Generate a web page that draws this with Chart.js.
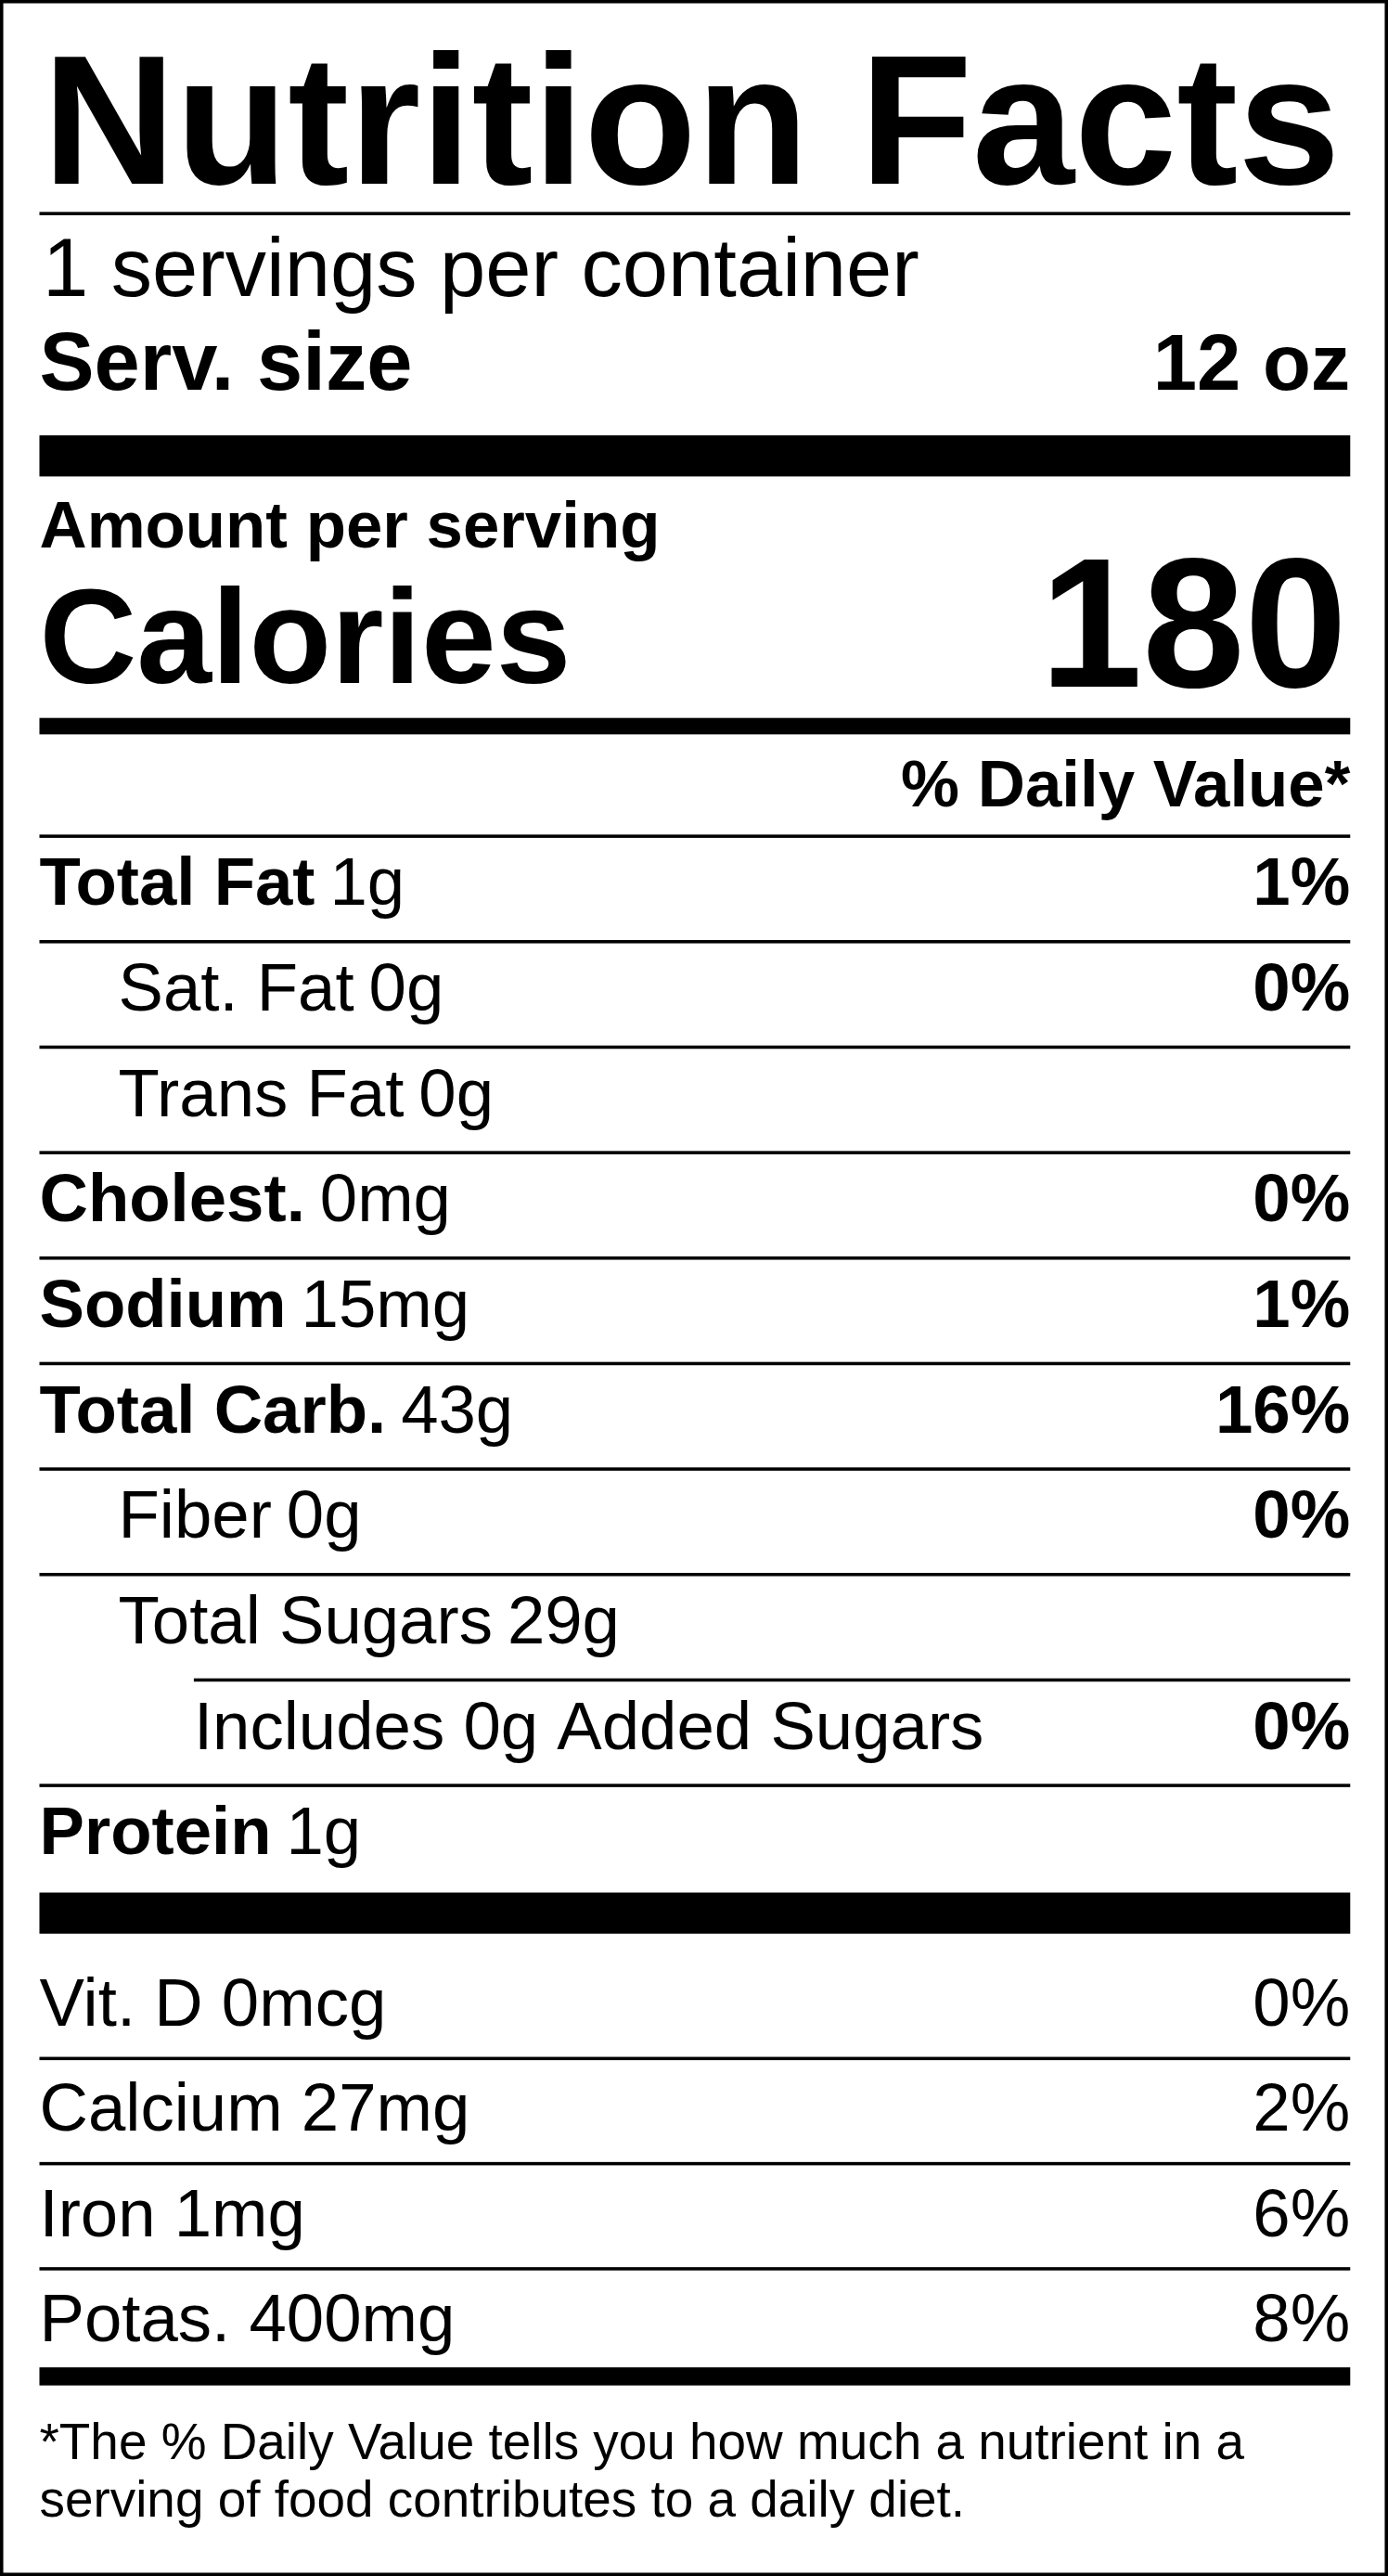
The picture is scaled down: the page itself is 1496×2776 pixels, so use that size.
<!DOCTYPE html>
<html>
<head>
<meta charset="utf-8">
<script src="https://cdn.jsdelivr.net/npm/chart.js@4"></script>
<style>
  html, body { margin: 0; padding: 0; background: #fff; }
  canvas { display: block; }
</style>
</head>
<body>
<canvas id="myChart" width="1496" height="2776"></canvas>
<script>
const servingsText = '1 servings per container';
const servSize = '12 oz';
const calories = '180';

// main nutrient rows
const rowNames   = ['Total Fat', 'Sat. Fat', 'Trans Fat', 'Cholest.', 'Sodium', 'Total Carb.', 'Fiber', 'Total Sugars', 'Includes 0g Added Sugars', 'Protein'];
const rowAmounts = ['1g', '0g', '0g', '0mg', '15mg', '43g', '0g', '29g', '', '1g'];
const rowDaily   = ['1%', '0%', '', '0%', '1%', '16%', '0%', '', '0%', ''];
const rowLevel   = [0, 1, 1, 0, 0, 0, 1, 1, 2, 0];

// vitamins and minerals
const vitNames = ['Vit. D 0mcg', 'Calcium 27mg', 'Iron 1mg', 'Potas. 400mg'];
const vitDaily = ['0%', '2%', '6%', '8%'];

const footnote = ['*The % Daily Value tells you how much a nutrient in a', 'serving of food contributes to a daily diet.'];

const FONT = '"Liberation Sans", Arial, sans-serif';

const labelPlugin = {
    id: 'nutritionLabel',
    afterDraw(chart) {
        const ctx = chart.ctx;
        const s = chart.width / 845;
        ctx.save();
        ctx.scale(s, s);
        ctx.fillStyle = '#000';
        ctx.strokeStyle = '#000';
        const L = 24, R = 822;
        const bar = (y, h, x0) => ctx.fillRect(x0 === undefined ? L : x0, y, R - (x0 === undefined ? L : x0), h);
        const text = (t, x, y, size, bold, align) => {
            ctx.font = (bold ? 'bold ' : '') + size + 'px ' + FONT;
            ctx.textAlign = align || 'left';
            ctx.textBaseline = 'alphabetic';
            ctx.fillText(t, x, y);
            return ctx.measureText(t).width;
        };

        // border
        ctx.lineWidth = 2;
        ctx.strokeRect(1, 1, 843, 1566);

        // title fitted to width
        ctx.font = 'bold 100px ' + FONT;
        const w = ctx.measureText('Nutrition Facts').width;
        const size = 100 * (R - 4 - 28) / w;
        text('Nutrition Facts', 26, 112, Math.min(size, 132), true);
        bar(129, 2);

        text(servingsText, 26, 180, 50, false);
        text('Serv. size', 24, 237, 50, true);
        text(servSize, R, 237, 48, true, 'right');
        bar(265, 25);

        text('Amount per serving', 24, 333, 40, true);
        text('Calories', 24, 416, 82, true);
        text(calories, R - 2, 418, 112, true, 'right');
        bar(437, 10);

        text('% Daily Value*', R, 491, 40, true, 'right');
        bar(508, 2);

        const indents = [24, 72, 118];
        let y = 508;
        rowNames.forEach((name, i) => {
            const x = indents[rowLevel[i]];
            const base = y + 43;
            const bold = rowLevel[i] === 0;
            const nw = text(name, x, base, 41, bold);
            if (rowAmounts[i]) text(rowAmounts[i], x + nw + 9, base, 41, false);
            if (rowDaily[i]) text(rowDaily[i], R, base, 41, true, 'right');
            y += 64.2;
            if (i < rowNames.length - 1) {
                const nextLevel = rowLevel[i + 1];
                bar(y, 2, nextLevel === 2 ? indents[2] : L);
            }
        });

        bar(1152, 25);
        y = 1177;
        vitNames.forEach((name, i) => {
            const base = y + 56;
            text(name, 24, base, 41, false);
            text(vitDaily[i], R, base, 41, false, 'right');
            y += 64;
            if (i < vitNames.length - 1) bar(y + 11, 2);
        });
        bar(1441, 11);

        text(footnote[0], 24, 1497, 31, false);
        text(footnote[1], 24, 1532, 31, false);
        ctx.restore();
    }
};

const myChart = new Chart(document.getElementById('myChart'), {
    type: 'bar',
    data: { labels: rowNames, datasets: [{ data: [], label: 'Nutrition' }] },
    options: {
        responsive: false,
        animation: false,
        devicePixelRatio: 1,
        plugins: { legend: { display: false }, tooltip: { enabled: false } },
        scales: { x: { display: false }, y: { display: false } }
    },
    plugins: [labelPlugin]
});
</script>
</body>
</html>
